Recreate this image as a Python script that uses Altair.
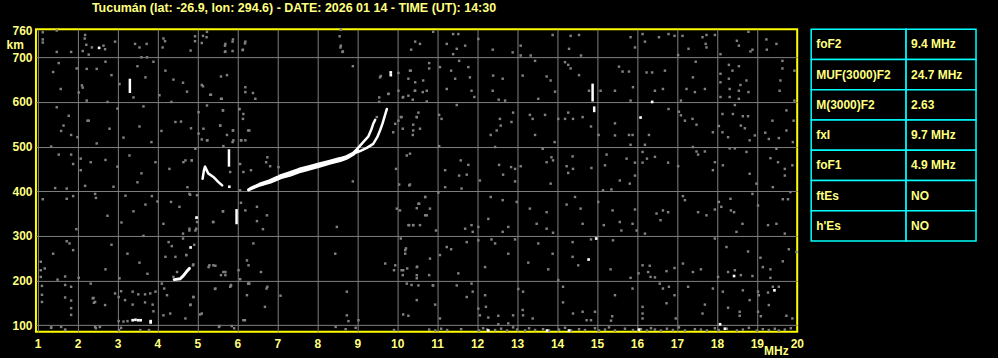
import altair as alt
import pandas as pd

TITLE = "Tucumán (lat: -26.9, lon: 294.6) - DATE: 2026 01 14 - TIME (UT): 14:30"
x_ticks = list(range(1, 21))
y_ticks = [100, 200, 300, 400, 500, 600, 700, 760]
x_domain = [0.96, 20.01]
y_domain = [85, 763]

# ---- main F2 trace (o + x merged below 9 MHz) ----
f2_f = [6.28, 6.36, 6.57, 6.82, 7.07, 7.32, 7.57, 7.82, 8.07, 8.32, 8.57, 8.74, 8.9, 9.0]
f2_h = [403, 407, 415, 422, 432, 439, 447, 453, 459, 465, 471, 476, 484, 492]
f2_w = [3, 3.5, 4, 4.5, 5, 5.5, 5.5, 5.5, 5.5, 5, 5, 4.5, 4, 3.5]
# upper (ordinary) branch
bo_f = [8.95, 9.05, 9.15, 9.28, 9.36, 9.4, 9.45]
bo_h = [490, 500, 510, 523, 540, 551, 560]
# lower (extraordinary) branch
bx_f = [8.95, 9.07, 9.24, 9.4, 9.5, 9.57, 9.63, 9.68, 9.74]
bx_h = [486, 490, 497, 506, 521, 536, 551, 566, 584]
# F1 cusp
f1_f = [5.13, 5.16, 5.19, 5.27, 5.4, 5.52, 5.62]
f1_h = [428, 445, 455, 440, 432, 421, 413]
# E-layer like trace
e_f = [4.42, 4.57, 4.65, 4.73, 4.8]
e_h = [202, 204, 211, 220, 227]

# vertical echo bars
bar_f = [3.31, 5.79, 5.98, 14.89, 14.93]
bar_h1 = [620, 455, 326, 601, 577]
bar_h2 = [652, 494, 360, 641, 590]

# isolated white echoes
white_f = [2.54, 9.84, 9.84, 16.38, 16.09, 14.98, 14.79, 18.43, 19.44, 18.08, 12.28,
           4.83, 4.98, 5.8, 3.38, 3.45, 3.52, 3.58, 3.83, 3.83, 14.3, 13.75, 16.05, 18.2]
white_h = [721, 666, 660, 600, 565, 294, 247, 210, 178, 102, 88,
           274, 341, 410, 111, 112, 111, 111, 109, 106, 88, 88, 90, 92]

# grey noise dots
noise_f = [
    1.13, 1.13, 1.13, 1.48, 1.48, 1.84, 2.19, 2.36, 2.23, 2.48, 1.53, 1.39, 1.58, 1.98, 2.11, 2.13,
    2.03, 2.23, 1.48, 1.78, 1.65, 1.59, 1.84, 2.0, 2.25, 2.28, 2.48, 1.34, 1.53, 1.84, 1.89, 2.08,
    2.33, 2.08, 1.44, 1.73, 1.89, 1.13, 1.73, 2.19, 2.44, 2.46, 1.97, 1.73, 1.8, 1.89, 1.39, 1.08,
    1.08, 1.18, 1.08, 1.5, 1.69, 2.03, 1.11, 1.69, 1.84, 2.33, 1.11, 1.11, 1.84, 1.84, 1.84, 1.69,
    2.38, 2.41, 1.34, 1.69, 2.46,
    2.18, 2.22, 2.13, 2.28, 2.65, 2.69, 2.94, 3.44, 3.55, 3.73, 3.6, 3.74, 4.15, 4.19, 4.13, 4.94,
    4.94, 5.11, 5.23, 4.83, 5.69, 5.88, 5.88, 5.69, 6.19, 6.13, 8.56, 8.58, 8.63,
    10.45, 10.57, 10.35, 10.9, 11.24, 11.4, 11.53, 11.49, 11.4, 11.7, 12.03, 12.39, 12.89, 13.09,
    13.09, 13.34, 13.89, 14.34, 14.55, 14.3, 14.6, 15.84, 16.14, 16.2, 15.95, 16.55, 16.79, 16.94,
    17.14, 17.29, 17.64, 17.74, 17.95, 17.72, 17.74, 18.09, 18.5, 18.55, 18.79, 18.84, 18.89, 19.24,
    19.49, 19.25, 17.03,
    10.32, 10.8, 10.8, 11.07, 10.28, 10.45, 10.65, 10.45, 10.64, 10.74, 10.15, 10.39, 10.74, 11.35,
    11.55, 11.45, 11.82, 11.78, 11.24, 11.86, 11.93, 12.4, 12.64, 12.39, 12.54, 12.7, 13.14, 13.45,
    13.74, 13.84, 13.95, 13.53, 14.2, 14.28, 14.34, 14.55, 14.8, 15.09, 15.45, 15.64, 15.55, 15.8,
    15.9, 15.84, 16.24, 16.38, 16.7, 16.45, 16.65, 17.47, 17.4, 17.24, 17.45, 17.7, 17.1, 18.09,
    18.3, 18.39, 18.55, 18.09, 18.3, 18.74, 18.59, 18.32, 18.55, 18.79, 18.09, 18.32, 18.55, 19.64,
    19.64, 19.94, 19.59, 19.57, 19.94,
    10.53, 10.49, 10.4, 10.57, 10.39, 10.11, 11.05, 11.11, 11.49, 11.05, 12.57, 12.59, 12.49, 12.34,
    12.9, 12.86, 13.32, 13.39, 13.7, 13.45, 13.94, 14.03, 14.2, 14.4, 14.28, 14.64, 14.85, 15.04,
    15.45, 15.45, 15.8, 15.89, 16.3, 16.2, 15.84, 16.79, 17.05, 17.1, 17.2, 17.39, 17.49, 17.9,
    18.05, 18.14, 18.14, 18.28, 18.4, 18.45, 18.65, 18.78, 18.6, 18.7, 18.95, 18.82, 19.21, 19.3,
    19.55, 19.74, 19.39, 19.92, 19.74, 19.9,
    10.24, 11.2, 11.59, 11.78, 11.55, 11.74, 12.45, 12.55, 12.65, 12.85, 12.95, 13.09, 13.64, 13.74,
    13.86, 13.9, 14.39, 14.24, 14.4, 14.28, 14.86, 15.24, 15.2, 15.74, 15.95, 15.95, 16.14, 16.25,
    16.45, 16.14, 16.78, 17.03, 17.4, 17.49, 17.7, 17.53, 17.95, 17.9, 18.15, 18.32, 18.45, 18.74,
    18.82, 19.49, 19.34, 19.53, 19.7, 19.89, 19.7,
    10.3, 11.2, 11.61, 12.07, 12.95, 13.84, 15.15, 15.36, 15.57, 15.82, 18.99, 19.4, 19.84,
    10.53, 10.7, 10.82, 11.03, 10.28, 10.4, 10.74, 10.97, 11.7, 11.86, 12.03, 11.89, 12.34, 12.28,
    12.64, 12.78, 12.64, 12.99, 13.32, 13.74, 13.49, 13.74, 13.9, 14.24, 14.45, 14.59, 14.64, 15.03,
    15.17, 15.39, 15.57, 15.61, 15.89, 15.95, 15.99, 16.2, 16.49, 16.65, 16.78, 16.59, 17.15, 17.2,
    17.53, 17.74, 17.95, 18.05, 18.11, 18.34, 18.35, 18.43, 18.64, 18.49, 18.89, 19.03, 19.28, 19.49,
    19.7, 19.65, 19.78,
    10.2, 10.15, 10.49, 10.82, 10.8, 10.9, 11.24, 11.35, 11.07, 11.53, 11.74, 12.03, 12.2, 12.36,
    12.45, 12.78, 12.95, 13.28, 13.53, 13.78, 13.89, 14.03, 14.39, 14.39, 14.53, 14.85, 15.4, 15.34,
    15.84, 16.04, 16.14, 16.32, 16.28, 16.45, 16.34, 16.74, 16.94, 17.15, 17.4, 17.6, 17.95, 18.03,
    18.24, 18.28, 18.45, 18.6, 18.78, 18.89, 19.09, 19.15, 19.34, 19.34, 19.65, 19.8, 19.99,
    10.24, 10.53, 10.89, 10.49, 10.95, 10.15, 10.28, 11.07, 11.49, 11.86, 11.74, 11.89, 12.03, 12.22,
    12.2, 12.07, 12.28, 12.53, 12.53, 12.78, 12.9, 13.03, 13.15, 13.14, 13.15, 13.39, 14.15, 14.15,
    14.4, 14.64, 14.74, 14.85, 14.95, 15.45, 15.89, 16.14, 16.14, 16.14, 16.57, 16.65, 16.74, 16.8,
    16.94, 16.97, 17.28, 17.7, 17.64, 17.9, 18.15, 18.28, 18.57, 18.57, 18.65, 18.82, 19.03, 19.03,
    19.05, 19.28, 19.3, 19.4, 19.55, 19.74, 19.89,
    10.8, 10.95, 11.1, 11.25, 11.6, 12.05, 12.15, 12.25, 12.45, 12.6, 12.75, 12.9, 13.0, 13.2, 13.3,
    13.45, 13.65, 13.8, 14.05, 14.2, 14.35, 14.55, 14.7, 14.95, 15.05, 15.2, 15.3, 15.45, 15.7, 15.9,
    16.1, 16.25, 16.35, 16.45, 16.6, 16.75, 16.9, 17.05, 17.2, 17.45, 17.6, 17.75, 17.95, 18.05,
    18.25, 18.5, 18.65, 18.8, 19.0, 19.15, 19.3, 19.45, 19.55, 19.7, 19.85, 15.35, 15.38, 19.1,
    1.34, 1.59, 1.69, 2.44, 2.56, 3.04, 3.09, 3.57, 3.79, 5.54, 5.92, 8.46, 8.71, 8.96, 9.92,
    2.4, 2.44, 2.69, 2.94, 3.03, 3.09, 3.19, 3.38, 3.52, 3.69, 3.82, 3.38, 3.69, 3.88, 3.9, 5.07,
    5.44, 5.84, 6.19, 6.27, 6.73, 6.69, 7.08, 8.74, 8.74, 8.78, 9.03, 4.9, 4.83, 3.03, 3.15, 3.25,
    4.64, 4.74, 5.11, 5.32, 5.61, 5.74, 5.59, 6.2, 6.2, 6.39, 6.45, 8.89, 9.57, 9.84, 10.03, 10.34,
    10.44, 10.28, 10.03, 10.14, 9.55, 9.55, 9.78, 5.24, 5.03, 5.64, 6.05, 6.15, 6.14, 4.59, 4.84,
    5.15, 5.03, 5.57, 5.74, 5.89, 5.9, 5.11, 5.24, 5.65, 4.95, 6.1, 6.2, 6.3, 6.75, 6.72, 6.82,
    7.03, 6.34, 6.07, 6.15, 4.7, 4.86, 4.75, 4.82, 10.03, 10.14, 10.4, 9.9, 10.09, 10.49, 10.32,
    9.97, 10.05, 10.32, 8.89, 6.07, 5.82,
    5.24, 5.14, 5.7, 5.89, 6.2, 5.7, 6.14, 8.59, 8.59, 8.64, 9.59, 9.78, 9.95, 9.49, 5.14, 5.34,
    5.59, 5.64, 6.05, 5.57, 5.89, 6.27, 5.88, 6.09, 5.25,
    4.65, 4.86, 6.09, 6.2, 6.49, 6.74, 6.49, 6.64, 5.64, 5.4, 4.97, 4.97, 4.8, 4.64, 4.92, 4.72,
    4.9, 5.3, 5.45, 5.65, 5.7, 5.84, 6.03, 6.24, 6.28, 6.4, 6.59, 6.75, 6.3, 8.49, 8.45, 9.7, 9.95,
    9.92, 10.11, 10.25, 10.5, 10.49, 10.55, 10.7, 10.7, 10.3, 10.4, 10.57, 9.99, 10.07, 10.09,
    10.22, 10.2, 10.14, 10.49, 10.36, 10.49,
    3.86, 4.0, 4.34, 4.8, 4.99, 4.55, 4.15, 4.64, 4.8, 4.95, 4.99, 5.39, 5.64, 4.28, 4.36, 4.45,
    4.2, 4.72, 4.89, 4.49, 4.4, 5.28, 5.4, 5.59, 5.7, 4.11, 4.17, 3.95, 4.24, 4.9, 4.82, 4.15, 4.32,
    4.7, 5.45, 5.82, 5.11, 6.07, 6.24, 6.28, 6.15, 5.86, 5.55,
    2.7, 2.85, 3.05, 3.5, 3.7, 3.9, 4.2, 4.4, 2.75, 3.0, 3.4, 3.65, 4.05, 4.35, 2.8, 3.15, 3.55,
    3.85, 4.1, 4.45, 2.7, 3.0, 3.3, 3.6, 3.95, 4.3, 2.9, 3.2, 3.5, 3.7, 2.75, 3.1, 3.4, 3.65, 2.85,
    3.25, 3.55, 3.75, 2.7, 3.05,
]
noise_h = [
    756, 740, 733, 760, 712, 712, 750, 722, 674, 674, 687, 667, 629, 675, 637, 632,
    621, 603, 588, 569, 547, 535, 526, 521, 558, 558, 507, 500, 482, 482, 461, 473,
    465, 447, 407, 406, 389, 382, 383, 412, 394, 385, 315, 288, 283, 268, 260, 242,
    223, 227, 208, 202, 209, 206, 188, 190, 186, 193, 168, 152, 155, 138, 123, 162,
    160, 150, 95, 90, 93,
    742, 728, 714, 706, 726, 718, 735, 730, 722, 730, 700, 700, 742, 736, 722, 747,
    736, 732, 745, 715, 726, 735, 714, 712, 731, 716, 747, 722, 712,
    735, 730, 717, 757, 730, 752, 752, 719, 707, 726, 741, 717, 711, 726,
    704, 704, 750, 748, 750, 719, 704, 745, 752, 735, 722, 745, 752, 748,
    748, 719, 745, 750, 750, 730, 722, 707, 737, 726, 757, 713, 717, 740,
    730, 717, 705,
    670, 687, 675, 678, 652, 644, 648, 625, 622, 625, 611, 605, 601, 670,
    692, 652, 655, 678, 629, 625, 611, 659, 652, 625, 605, 603, 659, 692,
    657, 648, 623, 607, 689, 683, 675, 660, 625, 625, 625, 668, 679, 668,
    633, 603, 666, 666, 670, 625, 629, 690, 655, 629, 622, 629, 603, 663,
    683, 670, 680, 644, 652, 648, 638, 629, 625, 622, 611, 611, 607, 692,
    675, 670, 648, 625, 603,
    576, 566, 549, 540, 526, 566, 571, 562, 593, 501, 562, 547, 536, 526,
    576, 555, 571, 562, 571, 526, 510, 562, 562, 562, 576, 566, 545, 526,
    552, 525, 526, 526, 526, 504, 504, 584, 578, 570, 558, 562, 549, 532,
    546, 573, 532, 521, 573, 593, 568, 568, 547, 541, 525, 514, 531, 517,
    519, 581, 558, 558, 536, 510,
    480, 447, 469, 459, 435, 437, 499, 459, 437, 454, 450, 456, 495, 465,
    476, 469, 478, 456, 450, 441, 452, 482, 458, 473, 464, 435, 488, 473,
    477, 464, 464, 456, 499, 489, 489, 482, 465, 447, 458, 496, 496, 488,
    439, 495, 474, 465, 450, 458, 435,
    413, 409, 406, 424, 422, 417, 402, 404, 424, 417, 417, 409, 398,
    372, 387, 361, 397, 324, 324, 346, 312, 316, 324, 320, 309, 387, 338,
    380, 320, 309, 376, 361, 353, 327, 316, 307, 370, 387, 361, 327, 376,
    324, 357, 331, 312, 327, 359, 312, 305, 350, 357, 353, 335, 389, 380,
    353, 346, 359, 376, 365, 383, 357, 353, 327, 309, 394, 368, 324, 327,
    305, 382, 382,
    268, 223, 230, 249, 212, 189, 275, 270, 257, 216, 286, 290, 230, 292,
    283, 260, 292, 240, 283, 225, 260, 201, 286, 253, 234, 292, 290, 225,
    206, 216, 234, 233, 219, 207, 208, 221, 228, 238, 219, 225, 294, 208,
    275, 219, 223, 212, 265, 210, 251, 230, 225, 206, 243, 270, 264,
    193, 189, 189, 156, 146, 124, 121, 115, 189, 193, 163, 175, 137, 141,
    167, 122, 117, 121, 102, 104, 122, 181, 175, 134, 122, 115, 186, 151,
    126, 130, 111, 111, 130, 167, 182, 141, 126, 115, 193, 182, 149, 186,
    167, 115, 186, 146, 126, 182, 175, 139, 130, 121, 178, 156, 175, 130,
    167, 173, 145, 186, 186, 121, 115,
    90, 88, 92, 89, 91, 88, 93, 90, 89, 92, 88, 95, 90, 88, 93,
    89, 91, 88, 90, 94, 88, 91, 89, 93, 88, 90, 95, 88, 92, 89,
    91, 88, 93, 90, 88, 92, 89, 95, 88, 91, 90, 88, 93, 89,
    92, 88, 90, 94, 88, 91, 89, 92, 88, 90, 93, 110, 120, 120,
    94, 96, 89, 96, 96, 89, 94, 89, 89, 96, 93, 96, 91, 94, 89,
    161, 152, 145, 171, 163, 176, 156, 175, 169, 169, 171, 146, 151, 146, 131, 124,
    181, 188, 111, 193, 182, 141, 166, 175, 122, 109, 111, 163, 146, 109, 108, 109,
    643, 623, 638, 616, 607, 660, 657, 633, 622, 620, 607, 680, 655, 666, 665, 670,
    625, 614, 625, 610, 610, 600, 618, 592, 577, 581, 584, 573, 562, 556, 541,
    540, 529, 547, 526, 536, 514, 516, 514, 501, 495, 514, 514, 536, 476, 465, 456,
    454, 447, 461, 443, 469, 469, 409, 392, 558, 540, 536, 532, 566, 566, 484,
    450, 415, 415, 422, 402, 443,
    757, 748, 730, 740, 735, 713, 717, 762, 726, 713, 658, 618, 551, 566, 635, 616,
    607, 581, 584, 547, 536, 536, 510, 514, 514,
    465, 469, 374, 357, 365, 346, 333, 315, 355, 331, 340, 316, 316, 294, 280, 257,
    236, 234, 233, 219, 212, 190, 223, 245, 234, 283, 219, 186, 193, 320, 260, 238, 234,
    223, 223, 227, 231, 362, 372, 387, 346, 324, 324, 324, 361, 357, 294,
    272, 260, 212, 212, 190, 205,
    389, 377, 376, 394, 391, 365, 327, 305, 312, 312, 331, 331, 355, 286, 277, 253,
    253, 257, 234, 219, 208, 230, 234, 212, 219, 193, 182, 175, 167, 163, 145, 122, 126,
    115, 182, 186, 126, 203, 167, 193, 111, 98, 98,
    690, 660, 640, 680, 655, 690, 670, 650, 600, 585, 610, 590, 615, 600, 540, 520, 545,
    510, 535, 555, 470, 455, 480, 440, 465, 450, 410, 390, 420, 370, 345, 330, 355, 300, 280,
    260, 240, 215, 225, 205,
]

# ionospheric parameters table
tbl_labels = ["foF2", "MUF(3000)F2", "M(3000)F2", "fxI", "foF1", "ftEs", "h'Es"]
tbl_values = ["9.4 MHz", "24.7 MHz", "2.63", "9.7 MHz", "4.9 MHz", "NO", "NO"]

# ---------------- styling ----------------
YEL = "#ffff80"
BORDER = "#ffff00"
GRID = "#808080"
CYAN = "#00ffff"
FONT = "Liberation Sans"
LABEL_COL_W = 95
VALUE_COL_W = 70

n = min(len(noise_f), len(noise_h))
noise_df = pd.DataFrame({"f": noise_f[:n], "h": noise_h[:n]})

trace_rows = []
for name, fs, hs, ws in [
    ("F2", f2_f, f2_h, f2_w),
    ("F2o", bo_f, bo_h, [2.5] * len(bo_f)),
    ("F2x", bx_f, bx_h, [2.5] * len(bx_f)),
    ("F1", f1_f, f1_h, [2.5] * len(f1_f)),
    ("E", e_f, e_h, [3] * len(e_f)),
]:
    for f, h, w in zip(fs, hs, ws):
        trace_rows.append({"seg": name, "f": f, "h": h, "w": w})
trace_df = pd.DataFrame(trace_rows)
bar_df = pd.DataFrame({"f": bar_f, "h": bar_h1, "h2": bar_h2})
white_df = pd.DataFrame({"f": white_f, "h": white_h})

xs = alt.Scale(domain=x_domain, nice=False, zero=False)
ys = alt.Scale(domain=y_domain, nice=False, zero=False)

x_axis = alt.Axis(
    values=x_ticks, format="d", grid=True, gridColor=GRID, gridWidth=1,
    gridOpacity={"condition": {"test": "datum.value == 20", "value": 0}, "value": 1},
    ticks=False, domain=False, labelColor=YEL, labelFont=FONT, labelFontSize=12,
    labelFontWeight="bold", labelPadding=7, labelFlush=False, labelOverlap=False,
    title="MHz", titleColor=YEL, titleFont=FONT, titleFontSize=12, titleFontWeight="bold",
    titleX=753, titleY=23, titleAlign="right", titleBaseline="alphabetic",
)
y_axis = alt.Axis(
    values=y_ticks, format="d", grid=True, gridColor=GRID, gridWidth=1,
    gridOpacity={"condition": {"test": "datum.value == 760", "value": 0}, "value": 1},
    ticks=False, domain=False, labelColor=YEL, labelFont=FONT, labelFontSize=12,
    labelFontWeight="bold", labelPadding=4, labelFlush=False, labelOverlap=False,
    title="km", titleColor=YEL, titleFont=FONT, titleFontSize=12, titleFontWeight="bold",
    titleAngle=0, titleX=-30, titleY=19, titleAlign="left", titleBaseline="alphabetic",
)

X = alt.X("f:Q", scale=xs, axis=x_axis)
Y = alt.Y("h:Q", scale=ys, axis=y_axis)

noise = alt.Chart(noise_df).mark_square(size=6, color=GRID, opacity=1).encode(x=X, y=Y)
whites = alt.Chart(white_df).mark_square(size=7, color="white", opacity=1).encode(x=X, y=Y)
traces = alt.Chart(trace_df).mark_trail(color="white").encode(
    x=X, y=Y,
    size=alt.Size("w:Q", scale=None, legend=None),
    detail="seg:N",
)
bars = alt.Chart(bar_df).mark_rule(color="white", strokeWidth=2.5).encode(
    x=X, y=Y, y2="h2:Q",
)

plot = alt.layer(noise, whites, bars, traces).properties(
    width=762, height=303,
    title=alt.TitleParams(TITLE, anchor="start", frame="group", dx=56, color=YEL, font=FONT,
                          fontSize=12.5, fontWeight="bold", offset=10),
    view=alt.ViewBackground(stroke=BORDER, strokeWidth=2),
)

# table
cells = []
for i, (lab, val) in enumerate(zip(tbl_labels, tbl_values)):
    cells.append({"row": i, "text": lab, "x0": 0, "x1": LABEL_COL_W})
    cells.append({"row": i, "text": val, "x0": LABEL_COL_W, "x1": LABEL_COL_W + VALUE_COL_W})
cell_df = pd.DataFrame(cells)
tx = alt.Scale(domain=[0, LABEL_COL_W + VALUE_COL_W], nice=False, zero=False)
ty = alt.Scale(paddingInner=0, paddingOuter=0)
rects = alt.Chart(cell_df).mark_rect(fill="black", stroke=CYAN, strokeWidth=1.5).encode(
    x=alt.X("x0:Q", scale=tx, axis=None), x2="x1:Q",
    y=alt.Y("row:O", scale=ty, axis=None),
)
texts = alt.Chart(cell_df).mark_text(align="left", baseline="middle", dx=5, color=YEL,
                                     font=FONT, fontSize=12, fontWeight="bold").encode(
    x=alt.X("x0:Q", scale=tx, axis=None),
    y=alt.Y("row:O", scale=ty, axis=None),
    text="text:N",
)
table = alt.layer(rects, texts).properties(
    width=LABEL_COL_W + VALUE_COL_W, height=212,
    view=alt.ViewBackground(stroke="transparent"),
)

chart = alt.hconcat(plot, table, spacing=4).configure(
    background="black",
    padding={"left": 5, "top": 0, "right": 20, "bottom": 0},
)

chart.save("out.html", embed_options={"renderer": "svg", "actions": False})
